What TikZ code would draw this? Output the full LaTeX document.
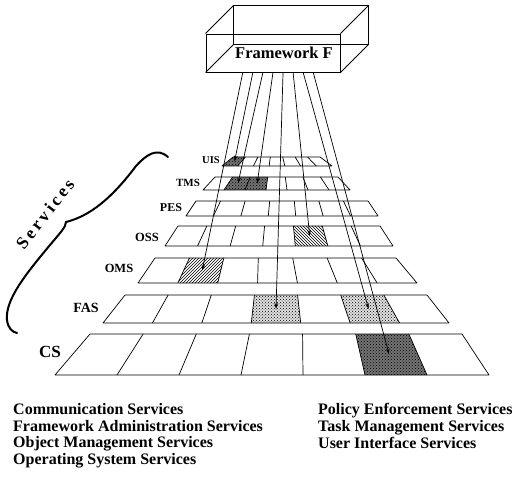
\documentclass[tikz,border=0pt]{standalone}
\usepackage{fontspec}
\setmainfont{Liberation Serif}
\newfontfamily\espace[LetterSpace=18]{Liberation Serif}
\usepackage{tikz}
\usetikzlibrary{arrows.meta}
\usetikzlibrary{patterns}
\usetikzlibrary{calc}
\tikzstyle{couche}=[draw,line width=0.7pt,line join=round]
\tikzstyle{cadre}=[draw,line width=0.9pt]
\tikzstyle{sigle}=[inner sep=0pt,font=\bfseries]
\tikzstyle{hachD}=[pattern=north east lines]
\tikzstyle{hachG}=[pattern=north west lines]
\tikzstyle{points}=[fill=black!12,postaction={pattern=crosshatch dots}]
\tikzstyle{pointsfonce}=[fill=black!55,postaction={pattern=crosshatch dots}]
\tikzstyle{suite}=[->,>={Stealth[length=6pt,width=3.6pt]},line width=0.7pt]
\tikzstyle{legende}=[anchor=north west,align=left,inner sep=0pt,
font=\bfseries\fontsize{16}{16.8}\selectfont]
\newcommand{\cellule}[2]{($(#1-tl)!{(#2-1)/7}!(#1-tr)$) -- ($(#1-tl)!{#2/7}!(#1-tr)$)
 -- ($(#1-bl)!{#2/7}!(#1-br)$) -- ($(#1-bl)!{(#2-1)/7}!(#1-br)$) -- cycle}
\begin{document}
\begin{tikzpicture}[x=1pt,y=-1pt]
\useasboundingbox (0,0) rectangle (519,478);
%Framework
\node[cadre,minimum width=134pt,minimum height=38pt] (fw) at (273,53)
 {\fontsize{16.5}{16.5}\selectfont\bfseries\hspace*{22pt}Framework F};
\draw[cadre] ($(fw.north west)+(28,-28)$) rectangle ($(fw.south east)+(28,-28)$);
\draw[cadre] (fw.north west) -- ++(28,-28);
\draw[cadre] (fw.north east) -- ++(28,-28);
\draw[cadre] (fw.south west) -- ++(28,-28);
\draw[cadre] (fw.south east) -- ++(28,-28);
%Couches
\coordinate (UIS-tl) at (233,157); \coordinate (UIS-tr) at (320,157);
\coordinate (UIS-bl) at (222,166); \coordinate (UIS-br) at (332,166);
\coordinate (TMS-tl) at (215,177); \coordinate (TMS-tr) at (338,177);
\coordinate (TMS-bl) at (203,190); \coordinate (TMS-br) at (350,190);
\coordinate (PES-tl) at (196,201); \coordinate (PES-tr) at (368,201);
\coordinate (PES-bl) at (186,216); \coordinate (PES-br) at (378,216);
\coordinate (OSS-tl) at (178,226); \coordinate (OSS-tr) at (380,226);
\coordinate (OSS-bl) at (165,246); \coordinate (OSS-br) at (393,246);
\coordinate (OMS-tl) at (155,258); \coordinate (OMS-tr) at (396,258);
\coordinate (OMS-bl) at (138,283); \coordinate (OMS-br) at (417,283);
\coordinate (FAS-tl) at (125,295); \coordinate (FAS-tr) at (427,295);
\coordinate (FAS-bl) at (103,323); \coordinate (FAS-br) at (449,323);
\coordinate (CS-tl) at (90,334); \coordinate (CS-tr) at (462,334);
\coordinate (CS-bl) at (55,375); \coordinate (CS-br) at (489,375);
\fill[pointsfonce] \cellule{UIS}{1};
\fill[pointsfonce] \cellule{TMS}{2};
\fill[pointsfonce] \cellule{TMS}{3};
\fill[hachG] \cellule{OSS}{5};
\fill[hachD] \cellule{OMS}{2};
\fill[points] \cellule{FAS}{4};
\fill[points] \cellule{FAS}{6};
\fill[pointsfonce] \cellule{CS}{6};
\foreach \c in {UIS,TMS,PES,OSS,OMS,FAS,CS}{
  \draw[couche] (\c-tl) -- (\c-tr) -- (\c-br) -- (\c-bl) -- cycle;
  \foreach \i in {1,...,6}
    \draw[couche] ($(\c-tl)!{\i/7}!(\c-tr)$) -- ($(\c-bl)!{\i/7}!(\c-br)$);
  \foreach \i in {1,...,7}
    \coordinate (\c-\i) at ($($(\c-tl)!{(\i-0.5)/7}!(\c-tr)$)!0.5!($(\c-bl)!{(\i-0.5)/7}!(\c-br)$)$);
}
\node[sigle] (uis) at (211,160) {\fontsize{10.5}{10.5}\selectfont UIS};
\node[sigle] (tms) at (188,183) {\fontsize{11}{11}\selectfont TMS};
\node[sigle] (pes) at (171,208) {\fontsize{12}{12}\selectfont PES};
\node[sigle] (oss) at (147,237) {\fontsize{12.5}{12.5}\selectfont OSS};
\node[sigle] (oms) at (119,268) {\fontsize{12.5}{12.5}\selectfont OMS};
\node[sigle] (fas) at (86,308) {\fontsize{14}{14}\selectfont FAS};
\node[sigle] (cs) at (50,352) {\fontsize{17}{17}\selectfont CS};
%Placement des fleches
\foreach \k/\t in {0/OMS-2,1/UIS-1,2/TMS-2,3/TMS-3,4/FAS-4,5/OSS-5,6/FAS-6,7/CS-6}
  \draw[suite] ($(fw.south west)!{0.276+\k*0.0746}!(fw.south east)$) -- (\t);
%Services
\draw[line width=2pt,line cap=round] (168,157) .. controls (157,147) and (146,155) .. (136,166)
 .. controls (112,198) and (90,216) .. (66,222)
 .. controls (66,227) and (60,233) .. (50,245)
 .. controls (25,275) and (5,300) .. (7,320)
 .. controls (8,328) and (12,332) .. (17,333);
\node[sigle,rotate=52] (services) at (45,214)
 {\espace\bfseries\fontsize{17.5}{17.5}\selectfont Services};
%Legende
\node[legende] (leg1) at (13,403) {Communication Services\\Framework Administration Services\\
Object Management Services\\Operating System Services};
\node[legende] (leg2) at (318,403) {Policy Enforcement Services\\Task Management Services\\
User Interface Services};
\end{tikzpicture}
\end{document}
